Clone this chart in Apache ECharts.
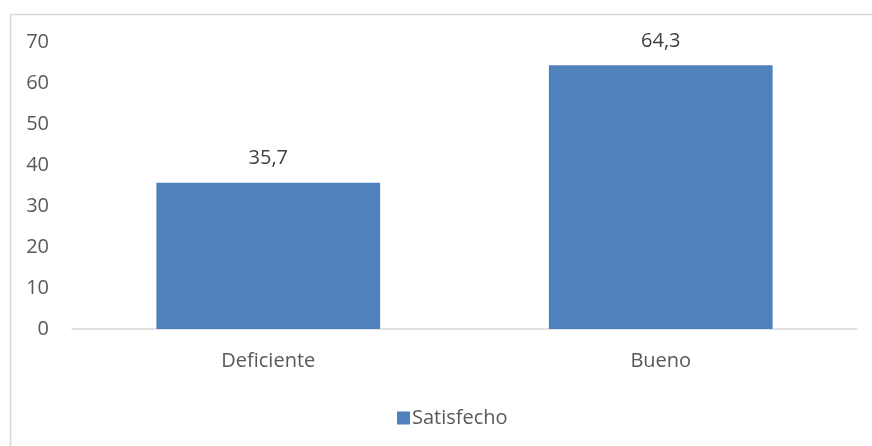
<!DOCTYPE html>
<html>
<head>
<meta charset="utf-8">
<script src="https://cdn.jsdelivr.net/npm/echarts@6/dist/echarts.min.js"></script>
<style>html,body{margin:0;padding:0;background:#fff;}#c{width:872px;height:446px;}</style>
</head>
<body>
<div id="c"></div>
<script>
const categories = ['Deficiente', 'Bueno'];
const values = [35.7, 64.3];
const seriesName = 'Satisfecho';
const yTicks = [0, 10, 20, 30, 40, 50, 60, 70];

const chart = echarts.init(document.getElementById('c'), null, {renderer: 'canvas'});
const font = '"Open Sans", "Liberation Sans", sans-serif';
chart.setOption({
  animation: false,
  textStyle: {fontFamily: font},
  graphic: [{
    type: 'rect', left: 8, top: 12,
    shape: {width: 880, height: 450},
    style: {fill: 'none', stroke: '#D9D9D9', lineWidth: 1.5},
    silent: true
  }],
  grid: {left: 72, right: 15, top: 42, bottom: 117, containLabel: false},
  legend: {
    data: [seriesName], left: 392, top: 403,
    itemWidth: 13, itemHeight: 13, itemGap: 5,
    icon: 'rect',
    textStyle: {fontSize: 20, color: '#595959', fontFamily: font, padding: [0, 0, 0, -3]}
  },
  xAxis: {
    type: 'category', data: categories,
    axisLine: {lineStyle: {color: '#D9D9D9', width: 1.5}},
    axisTick: {show: false},
    axisLabel: {fontSize: 20, color: '#595959', margin: 22, fontFamily: font}
  },
  yAxis: {
    type: 'value', min: yTicks[0], max: yTicks[yTicks.length - 1], interval: 10,
    axisLine: {show: false}, axisTick: {show: false},
    splitLine: {show: false},
    axisLabel: {fontSize: 20, color: '#595959', margin: 23, fontFamily: font}
  },
  series: [{
    name: seriesName, type: 'bar', data: values,
    barWidth: '57%',
    itemStyle: {color: '#4F81BD'},
    label: {
      show: true, position: 'top', distance: 14,
      fontSize: 20, color: '#404040', fontFamily: font,
      formatter: p => String(p.value).replace('.', ',')
    }
  }]
});
</script>
</body>
</html>
